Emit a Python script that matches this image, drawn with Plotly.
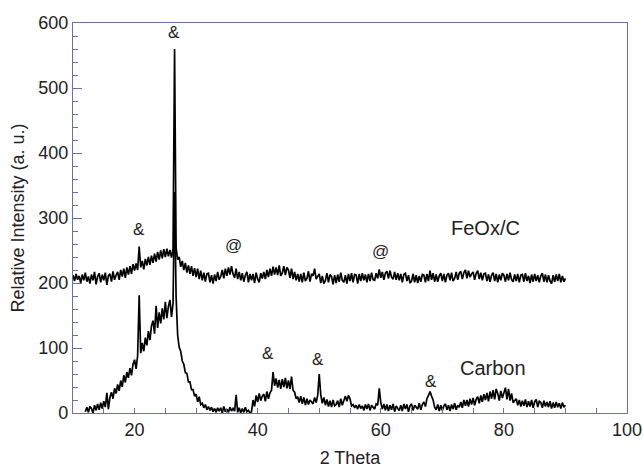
import numpy as np
import plotly.graph_objects as go

# XRD patterns, sampled every 0.25 degree (2 Theta)
feox_start, carbon_start, step = 10.0, 12.0, 0.25

feox_c = [
    212, 203, 214, 205, 211, 200, 213, 204, 216, 202, 210, 199, 213, 204, 217, 198,
    210, 215, 201, 213, 204, 216, 197, 211, 214, 202, 218, 205, 212, 217, 205, 220,
    210, 222, 208, 224, 213, 226, 214, 229, 219, 230, 220, 256, 224, 234, 221, 237,
    227, 240, 228, 242, 231, 245, 233, 248, 236, 250, 238, 252, 240, 253, 241, 251,
    239, 252, 560, 254, 236, 240, 225, 234, 220, 231, 216, 227, 214, 226, 211, 223,
    209, 222, 206, 219, 204, 216, 202, 214, 215, 201, 212, 199, 213, 203, 217, 205,
    210, 220, 207, 222, 211, 224, 213, 226, 214, 208, 222, 206, 217, 204, 215, 202,
    212, 217, 201, 214, 204, 214, 200, 216, 206, 201, 215, 207, 217, 206, 220, 209,
    222, 211, 225, 213, 224, 212, 227, 211, 215, 226, 212, 224, 220, 208, 222, 206,
    217, 204, 214, 202, 214, 201, 216, 203, 207, 218, 202, 214, 211, 222, 206, 210,
    214, 200, 211, 199, 204, 215, 201, 213, 210, 198, 212, 200, 213, 202, 216, 204,
    201, 212, 199, 214, 203, 215, 201, 213, 212, 199, 214, 203, 215, 204, 213, 201,
    214, 203, 216, 205, 204, 215, 207, 221, 208, 217, 205, 215, 218, 207, 219, 209,
    206, 217, 205, 215, 204, 214, 201, 213, 215, 203, 212, 200, 203, 214, 201, 212,
    200, 211, 202, 213, 212, 201, 214, 203, 219, 205, 215, 202, 213, 202, 211, 215,
    203, 214, 201, 212, 215, 204, 216, 203, 207, 217, 205, 215, 218, 206, 216, 220,
    207, 219, 209, 214, 217, 205, 215, 219, 206, 216, 204, 214, 215, 203, 213, 202,
    212, 216, 203, 214, 201, 213, 204, 215, 212, 202, 214, 204, 216, 205, 202, 213,
    203, 214, 201, 212, 213, 202, 215, 203, 211, 200, 213, 202, 214, 203, 212, 201,
    211, 215, 202, 213, 201, 212, 203, 199, 212, 202, 213, 203, 214, 201, 211, 202,
    207,
]

carbon = [
    2, 9, 1, 10, 7, 0, 12, 4, 14, 5, 16, 7, 18, 9, 31, 6,
    24, 32, 22, 38, 30, 44, 34, 50, 40, 58, 47, 63, 54, 69, 58, 75,
    82, 68, 88, 181, 92, 108, 95, 116, 104, 126, 112, 134, 142, 122, 165, 131,
    155, 138, 161, 144, 171, 146, 164, 174, 148, 168, 340, 178, 120, 101, 95, 80,
    75, 62, 61, 48, 48, 36, 36, 26, 29, 17, 25, 13, 15, 8, 13, 5,
    10, 4, 9, 2, 7, 1, 8, 3, 8, 0, 10, 2, 6, 1, 9, 3,
    7, 3, 28, 1, 8, 0, 7, 1, 9, 2, 4, 0, 2, 20, 10, 27,
    17, 30, 19, 26, 29, 18, 33, 22, 31, 35, 63, 42, 53, 39, 51, 37,
    52, 40, 54, 38, 50, 37, 56, 35, 32, 22, 25, 16, 26, 14, 24, 12,
    22, 13, 20, 16, 14, 24, 16, 27, 60, 28, 15, 24, 12, 21, 10, 19,
    9, 20, 11, 13, 19, 9, 22, 12, 21, 26, 18, 27, 22, 11, 13, 8,
    12, 6, 13, 7, 11, 4, 13, 6, 14, 4, 12, 8, 6, 14, 12, 38,
    16, 6, 14, 4, 13, 3, 12, 5, 14, 2, 11, 7, 4, 12, 3, 14,
    6, 13, 2, 11, 14, 4, 12, 9, 6, 15, 5, 13, 17, 10, 22, 27,
    33, 26, 20, 9, 5, 13, 3, 12, 4, 11, 14, 5, 12, 3, 13, 6,
    15, 5, 12, 9, 17, 8, 20, 11, 20, 10, 22, 13, 23, 12, 21, 25,
    15, 27, 17, 29, 20, 31, 18, 33, 22, 35, 21, 37, 30, 19, 34, 23,
    32, 39, 21, 37, 19, 30, 16, 20, 22, 12, 20, 10, 19, 11, 21, 9,
    18, 10, 20, 8, 17, 21, 9, 18, 16, 8, 19, 10, 17, 9, 18, 7,
    16, 8, 17, 9, 15, 7, 16, 9,
    12,
]

theta_feox = feox_start + step * np.arange(len(feox_c))
theta_carbon = carbon_start + step * np.arange(len(carbon))

# peak markers: (x, y, text)
marks_x = [26.4, 20.7, 36.0, 60.0, 41.7, 49.8, 68.1]
marks_y = [586, 283, 257, 249, 92, 83, 48]
marks_t = ["&", "&", "@", "@", "&", "&", "&"]

labels_x = [77.0, 78.2]
labels_y = [285, 69]
labels_t = ["FeOx/C", "Carbon"]

axis_col = "#6e6eaa"
font = "Liberation Sans, Arial, sans-serif"

fig = go.Figure()
fig.add_trace(go.Scatter(x=theta_carbon, y=carbon, mode="lines",
                         line=dict(color="black", width=1.7), showlegend=False))
fig.add_trace(go.Scatter(x=theta_feox, y=feox_c, mode="lines",
                         line=dict(color="black", width=1.7), showlegend=False))

for x, y, t in zip(marks_x, marks_y, marks_t):
    fig.add_annotation(x=x, y=y, text=t, showarrow=False,
                       font=dict(family=font, size=17, color="#222"))
for x, y, t in zip(labels_x, labels_y, labels_t):
    fig.add_annotation(x=x, y=y, text=t, showarrow=False,
                       font=dict(family=font, size=20, color="#222"))

fig.update_layout(
    width=643, height=468,
    margin=dict(l=73, r=16, t=23, b=55),
    paper_bgcolor="white", plot_bgcolor="white",
    font=dict(family=font, size=18, color="#222"),
    xaxis=dict(range=[10, 100], showgrid=False, zeroline=False, automargin=False,
               showline=True, linecolor=axis_col, linewidth=1.2, mirror=True,
               tickmode="array", tickvals=[20, 40, 60, 80, 100],
               ticks="inside", ticklen=5, tickcolor=axis_col,
               minor=dict(dtick=5, ticks="inside", ticklen=5, tickcolor=axis_col),
               tickfont=dict(size=18),
               title=dict(text="2 Theta", font=dict(size=18), standoff=12)),
    yaxis=dict(range=[0, 600], showgrid=False, zeroline=False, automargin=False,
               showline=True, linecolor=axis_col, linewidth=1.2, mirror=True,
               tickmode="array", tickvals=[0, 100, 200, 300, 400, 500, 600],
               ticks="inside", ticklen=9, tickcolor=axis_col,
               minor=dict(dtick=20, ticks="inside", ticklen=5, tickcolor=axis_col),
               tickfont=dict(size=18),
               title=dict(text="Relative Intensity (a. u.)", font=dict(size=18), standoff=8)),
)

fig.write_html("out.html",
               config={"displayModeBar": False},
               post_script="document.body.style.margin='0';document.body.style.overflow='hidden';")
